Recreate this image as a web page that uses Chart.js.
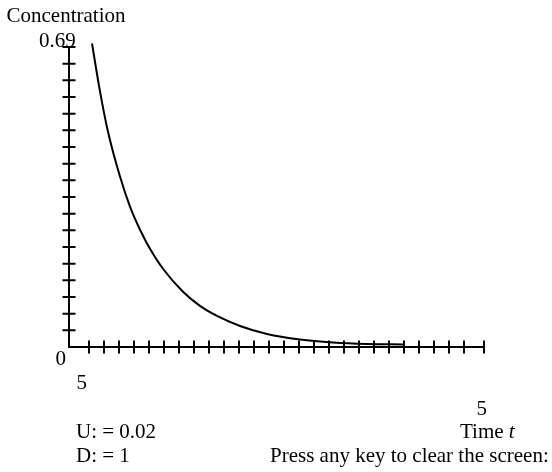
<!DOCTYPE html>
<html>
<head>
<meta charset="utf-8">
<title>Concentration</title>
<script src="https://cdn.jsdelivr.net/npm/chart.js@4.4.1/dist/chart.umd.min.js"></script>
<style>
    html, body { margin: 0; padding: 0; background: #fff; }
    canvas { display: block; }
</style>
</head>
<body>
<canvas id="plot" width="552" height="472"></canvas>
<script>
// values (x in axis units, 0..83 along the time axis)
const timeValues = [4.6, 6.2, 7.8, 10.2, 12.2, 14.4, 16.2, 18.8, 22.8, 26.2, 29.6, 34.2, 39.6, 46.2, 52.8, 59.6, 66.8];
const concentrationValues = [0.698, 0.588, 0.495, 0.392, 0.323, 0.265, 0.226, 0.180, 0.127, 0.0945, 0.0714, 0.0484, 0.030, 0.0173, 0.0104, 0.0069, 0.0058];

const xTickValues = [4, 7, 10, 13, 16, 19, 22, 25, 28, 31, 34, 37, 40, 43, 46, 49, 52, 55, 58, 61, 64, 67, 70, 73, 76, 79, 83];
const yTickValues = [0.0383, 0.0767, 0.115, 0.1533, 0.1917, 0.23, 0.2683, 0.3067, 0.345, 0.3833, 0.4217,
    0.46, 0.4983, 0.5367, 0.575, 0.6133, 0.6517, 0.69];

const xMax = 83;
const yMax = 0.69;

const FONT = '21px "Liberation Serif", "Times New Roman", serif';
const ITALIC = 'italic 21px "Liberation Serif", "Times New Roman", serif';

// the old screen-style axes: ticks cross the axis line
const crossAxes = {
    id: 'crossAxes',
    afterDatasetsDraw(chart) {
        const ctx = chart.ctx;
        const xs = chart.scales.x;
        const ys = chart.scales.y;
        const x0 = xs.getPixelForValue(0);
        const y0 = ys.getPixelForValue(0);

        ctx.save();
        ctx.strokeStyle = '#000';
        ctx.lineWidth = 2;
        ctx.beginPath();
        ctx.moveTo(x0, ys.getPixelForValue(yMax));
        ctx.lineTo(x0, y0);
        ctx.lineTo(xs.getPixelForValue(xMax), y0);

        xTickValues.forEach((v) => {
            let px = xs.getPixelForValue(v);
            ctx.moveTo(px, y0 - 6.5);
            ctx.lineTo(px, y0 + 6.5);
        });
        yTickValues.forEach((v) => {
            let py = ys.getPixelForValue(v);
            ctx.moveTo(x0 - 6.5, py);
            ctx.lineTo(x0 + 6.5, py);
        });
        ctx.stroke();

        ctx.fillStyle = '#000';
        ctx.font = FONT;
        ctx.textBaseline = 'alphabetic';
        ctx.textAlign = 'left';
        ctx.fillText('Concentration', 6.5, 22);
        ctx.fillText('0.69', 39, 47);
        ctx.fillText('0', 55.5, 365);
        ctx.fillText('5', 76.5, 389);
        ctx.fillText('5', 476.5, 415);
        ctx.fillText('U: = 0.02', 76, 438);
        ctx.fillText('D: = 1', 76, 462);
        ctx.fillText('Press any key to clear the screen:', 270, 462);

        ctx.fillText('Time ', 460, 438);
        let w = ctx.measureText('Time ').width;
        ctx.font = ITALIC;
        ctx.fillText('t', 460 + w, 438);
        ctx.restore();
    }
};

new Chart(document.getElementById('plot'), {
    type: 'line',
    data: {
        datasets: [{
            data: timeValues.map((t, i) => ({ x: t, y: concentrationValues[i] })),
            borderColor: '#000',
            borderWidth: 2,
            pointRadius: 0,
            fill: false,
            clip: false,
            cubicInterpolationMode: 'monotone',
        }],
    },
    options: {
        responsive: false,
        animation: false,
        devicePixelRatio: 1,
        layout: {
            padding: { left: 69, right: 68, top: 47, bottom: 125 },
        },
        scales: {
            x: { type: 'linear', min: 0, max: xMax, display: false },
            y: { type: 'linear', min: 0, max: yMax, display: false },
        },
        plugins: {
            legend: { display: false },
            tooltip: { enabled: false },
        },
    },
    plugins: [crossAxes],
});
</script>
</body>
</html>
